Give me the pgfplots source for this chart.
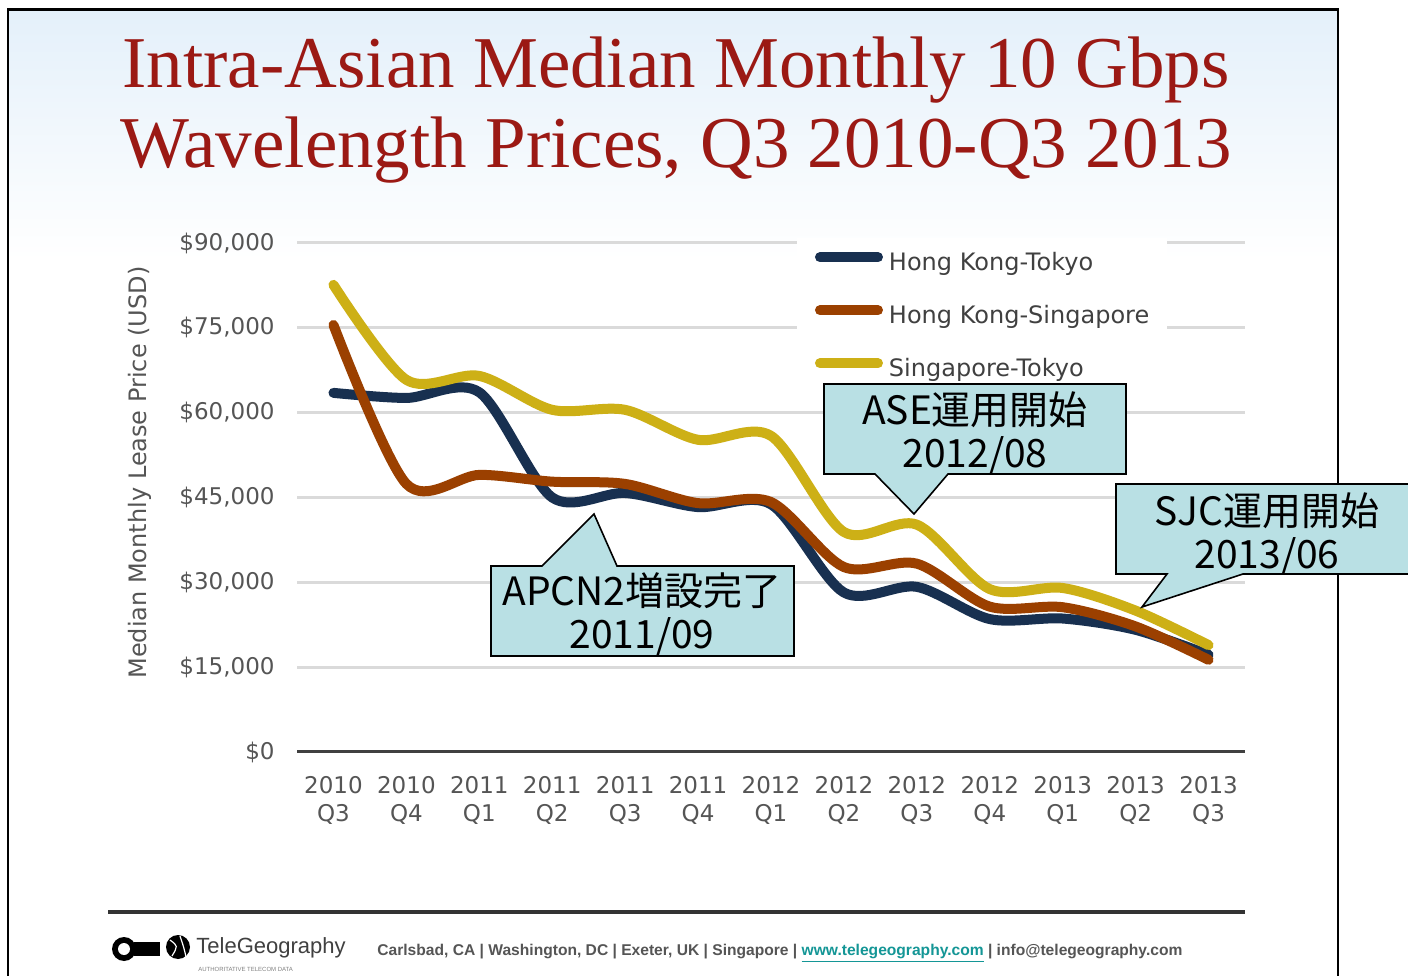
\documentclass[border=0pt]{standalone}
\usepackage{fontspec}
\usepackage{pgfplots}
\pgfplotsset{compat=1.18}
\setmainfont{DejaVu Sans}
\newfontfamily\titlefont{Liberation Serif}
\newfontfamily\jp{Noto Sans CJK JP}
\newfontfamily\libsans{Liberation Sans}
\definecolor{navy}{RGB}{24,48,80}
\definecolor{rust}{RGB}{155,64,0}
\definecolor{gold}{RGB}{205,176,22}
\definecolor{titlered}{RGB}{155,25,20}
\definecolor{callout}{RGB}{185,224,228}
\definecolor{gridgray}{RGB}{218,218,218}
\definecolor{txtgray}{RGB}{85,85,85}
\definecolor{bgblue}{RGB}{228,240,250}
\definecolor{teal2}{RGB}{20,150,150}

\begin{document}
\begin{tikzpicture}
\path[use as bounding box] (0,0) rectangle (704pt,487.5pt);
\begin{scope}[x=0.5pt,y=-0.5pt,yshift=487.5pt]
 \fill[white] (0,0) rectangle (1408,975);
 \shade[top color=bgblue, bottom color=white] (8,10) rectangle (1338,260);
 \draw[line width=1.5pt] (7,10) -- (1339,10);
 \draw[line width=1pt] (8,10) -- (8,990);
 \draw[line width=1pt] (1338,10) -- (1338,990);
 \node[anchor=base, font=\titlefont\fontsize{36.5}{40}\selectfont, text=titlered, inner sep=0pt] at (676,88) {Intra-Asian Median Monthly 10 Gbps};
 \node[anchor=base, font=\titlefont\fontsize{36.5}{40}\selectfont, text=titlered, inner sep=0pt] at (676,168) {Wavelength Prices, Q3 2010-Q3 2013};
 % footer
 \draw[line width=2pt, black!80] (108,912) -- (1245,912);
 \fill[black] (124,949) circle (12);
 \fill[white] (124,949) circle (6);
 \fill[black] (134,942) rectangle (160,956);
 \fill[black] (178,947) circle (12);
 \draw[white, line width=0.6pt] (170,940) .. controls (178,946) .. (172,956);
 \draw[white, line width=0.6pt] (180,936) .. controls (184,948) .. (186,957);
 \node[anchor=west, font=\libsans\fontsize{11}{12}\selectfont, text=black!75, inner sep=0pt] at (196,948) {TeleGeography};
 \node[anchor=west, font=\libsans\fontsize{3}{3}\selectfont, text=black!50, inner sep=0pt] at (198,969) {AUTHORITATIVE TELECOM DATA};
 \node[anchor=west, font=\libsans\bfseries\fontsize{7.8}{8}\selectfont, text=txtgray, inner sep=0pt] at (377,953) {Carlsbad, CA | Washington, DC | Exeter, UK | Singapore | \textcolor{teal2}{\underline{www.telegeography.com}} | info@telegeography.com};
\end{scope}

\begin{axis}[at={(148.5pt,111.5pt)}, anchor=south west, scale only axis,
  width=474pt, height=254.5pt, clip=false,
  xmin=-0.5, xmax=12.5, ymin=0, ymax=90000,
  scaled y ticks=false,
  axis lines*=left,
  y axis line style={draw=none},
  x axis line style={line width=1.5pt, draw=black!75, -},
  major tick length=0pt,
  ymajorgrids, grid style={gridgray, line width=1.5pt},
  ytick={0,15000,30000,45000,60000,75000,90000},
  yticklabels={\$0,\$15{,}000,\$30{,}000,\$45{,}000,\$60{,}000,\$75{,}000,\$90{,}000},
  yticklabel style={anchor=east, inner sep=0pt, xshift=-11pt, font=\fontsize{11.5}{14}\selectfont, text=txtgray},
  xtick={0,...,12},
  xticklabels={{2010\\Q3},{2010\\Q4},{2011\\Q1},{2011\\Q2},{2011\\Q3},{2011\\Q4},{2012\\Q1},{2012\\Q2},{2012\\Q3},{2012\\Q4},{2013\\Q1},{2013\\Q2},{2013\\Q3}},
  xticklabel style={align=center, anchor=north, inner sep=0pt, yshift=-12pt, font=\fontsize{11.5}{14}\selectfont, text=txtgray},
  ylabel={Median Monthly Lease Price (USD)},
  every axis y label/.style={at={(rel axis cs:-0.1656,0.549)}, rotate=90, anchor=center, font=\fontsize{12}{14}\selectfont, text=txtgray},
  legend style={at={(rel axis cs:0.527,1.010)}, anchor=north west, draw=none, fill=white,
    inner xsep=9pt, inner ysep=7pt, row sep=14.5pt, font=\fontsize{12}{14}\selectfont, text=black!75,
    nodes={inner sep=0pt, text height=9pt, text depth=3pt},
    /tikz/every odd column/.append style={column sep=3pt}},
  legend cell align=left,
  legend image code/.code={\draw[#1, line width=5pt, line cap=round] (2.5pt,3.5pt) -- (31.5pt,3.5pt);},
]
\addplot[navy, line width=5pt, line cap=round, line join=round, smooth, tension=0.5] coordinates {
 (0,63500) (1,62600) (2,63600) (3,45000) (4,45800) (5,43300) (6,43800) (7,28200) (8,29200) (9,23500) (10,23600) (11,21600) (12,17200)};
\addlegendentry{Hong Kong-Tokyo}
\addplot[rust, line width=5pt, line cap=round, line join=round, smooth, tension=0.5] coordinates {
 (0,75500) (1,47400) (2,49000) (3,47800) (4,47400) (5,44000) (6,44200) (7,32700) (8,33300) (9,25700) (10,25600) (11,22200) (12,16300)};
\addlegendentry{Hong Kong-Singapore}
\addplot[gold, line width=5pt, line cap=round, line join=round, smooth, tension=0.5] coordinates {
 (0,82600) (1,65800) (2,66500) (3,60500) (4,60500) (5,55200) (6,55900) (7,38900) (8,40200) (9,28800) (10,29000) (11,25000) (12,18900)};
\addlegendentry{Singapore-Tokyo}
\end{axis}

\begin{scope}[x=0.5pt,y=-0.5pt,yshift=487.5pt]
 \filldraw[fill=callout, draw=black, line width=0.8pt]
   (491,566) -- (542,566) -- (594,514) -- (617,566) -- (794,566) -- (794,656) -- (491,656) -- cycle;
 \node[align=center, font=\jp\fontsize{19.5}{21.5}\selectfont, inner sep=0pt] at (642,614) {APCN2増設完了\\2011/09};
 \filldraw[fill=callout, draw=black, line width=0.8pt]
   (824,384) -- (1126,384) -- (1126,474) -- (948,474) -- (914,514) -- (875,474) -- (824,474) -- cycle;
 \node[align=center, font=\jp\fontsize{19.5}{21.5}\selectfont, inner sep=0pt] at (975,433) {ASE運用開始\\2012/08};
 \filldraw[fill=callout, draw=black, line width=0.8pt]
   (1116,484) -- (1420,484) -- (1420,574) -- (1243,574) -- (1142,607) -- (1167,574) -- (1116,574) -- cycle;
 \node[align=center, font=\jp\fontsize{19.5}{21.5}\selectfont, inner sep=0pt] at (1267,534) {SJC運用開始\\2013/06};
\end{scope}
\end{tikzpicture}
\end{document}
